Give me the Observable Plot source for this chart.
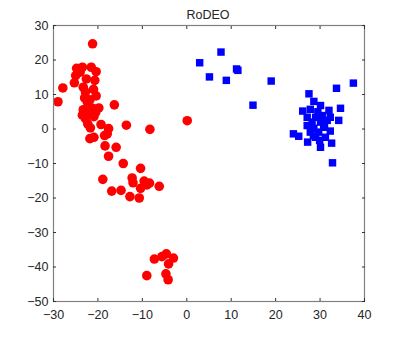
<!DOCTYPE html>
<html>
<head>
<meta charset="utf-8">
<script src="https://cdn.jsdelivr.net/npm/d3@7"></script>
<script src="https://cdn.jsdelivr.net/npm/@observablehq/plot@0.6"></script>
<style>
  body { margin: 0; background: #fff; font-family: "Liberation Sans", Arial, sans-serif; }
  #title { height: 20px; line-height: 30px; overflow: visible; text-align: center; padding-left: 14px; font-size: 12.5px; color: #262626; }
</style>
</head>
<body>
<div id="title">RoDEO</div>
<div id="chart"></div>
<script>
const titleText = "RoDEO";
const xTicks = [-30, -20, -10, 0, 10, 20, 30, 40];
const yTicks = [-50, -40, -30, -20, -10, 0, 10, 20, 30];

const redX = [-21.2, -24.8, -23.5, -21.5, -20.4, -25.0, -25.3, -27.9, -29.0, -22.6, -20.7, -23.3, -22.8, -20.4, -16.3, -22.4, -23.3, -21.3, -19.8, -22.8, -20.9, -21.7, -19.3, -17.6, -13.6, -8.3, 0.1, -17.9, -21.8, -20.9, -18.5, -18.4, -15.9, -17.6, -14.3, -10.4, -23.0, -21.8, -21.0, -22.0, -23.5, -22.3, -20.5, -24.0,
  -18.9, -12.3, -12.1, -9.6, -8.4, -10.4, -6.2, -16.9, -14.8, -12.8, -10.7, -9.0,
  -7.3, -5.6, -4.6, -3.0, -4.1, -9.0, -4.7, -4.2];
const redY = [24.7, 17.6, 17.9, 17.9, 16.6, 15.5, 13.4, 11.9, 7.9, 14.5, 14.1, 12.1, 10.7, 9.6, 7.0, 7.8, 5.6, 6.1, 6.1, 3.0, 3.6, 0.3, 1.3, 0.1, 1.1, -0.1, 2.4, -1.4, -2.8, -2.4, -1.9, -4.9, -5.3, -7.9, -10.0, -11.4, 9.0, 8.5, 11.5, 5.0, 4.0, 1.5, 4.8, 16.5,
  -14.6, -14.2, -15.6, -15.1, -15.7, -17.2, -16.6, -18.0, -17.8, -19.6, -20.0, -16.2,
  -37.7, -37.0, -36.2, -37.4, -39.1, -42.5, -42.0, -43.7];

const blueX = [7.7, 2.9, 5.1, 8.9, 11.2, 11.5, 19.0, 14.9, 37.5, 33.7,
  27.5, 28.6, 30.1, 26.1, 34.6, 27.8, 32.0, 27.1, 29.0, 30.5, 32.3, 34.2, 28.2, 30.1, 31.6, 27.1, 28.6, 30.8, 27.8, 29.7, 32.3, 24.0, 25.2, 29.0, 31.2, 27.2, 29.9, 32.6, 30.1, 32.8, 29.5, 31.0, 28.5];
const blueY = [22.3, 19.2, 15.1, 14.1, 17.4, 17.0, 13.9, 6.9, 13.3, 11.8,
  10.2, 8.0, 6.8, 5.2, 6.0, 5.7, 5.4, 3.4, 3.4, 3.9, 3.4, 2.5, 2.0, 2.0, 2.5, 1.0, 0.2, 0.5, -0.9, -0.9, -0.6, -1.4, -2.1, -2.4, -2.4, -3.8, -3.3, -4.1, -5.3, -9.8, 5.0, 1.0, -2.0];

const red = redX.map((x, i) => ({x, y: redY[i]}));
const blue = blueX.map((x, i) => ({x, y: blueY[i]}));

document.getElementById("title").textContent = titleText;

const axisColor = "#808080";
const textColor = "#262626";
const blank = () => "";

const chart = Plot.plot({
  width: 402,
  height: 319,
  marginTop: 5,
  marginBottom: 38,
  marginLeft: 53,
  marginRight: 38,
  style: {fontFamily: "'Liberation Sans', Arial, sans-serif", fontSize: "12.5px", color: textColor, background: "#fff"},
  x: {domain: [-30, 40], ticks: xTicks},
  y: {domain: [-50, 30], ticks: yTicks},
  marks: [
    Plot.dot(red, {x: "x", y: "y", r: 4.8, fill: "#ff0000", stroke: "none"}),
    Plot.dot(blue, {x: "x", y: "y", r: 4.2, symbol: "square", fill: "#0000ff", stroke: "none"}),
    Plot.frame({stroke: axisColor, strokeWidth: 1.2}),
    Plot.axisX(xTicks, {anchor: "bottom", tickSize: -3, tickPadding: 12, stroke: "#333", fill: textColor, label: null, fontSize: 12.5}),
    Plot.axisX(xTicks, {anchor: "top", tickSize: -3, tickFormat: blank, stroke: "#333", label: null}),
    Plot.axisY(yTicks, {anchor: "left", tickSize: -3, tickPadding: 8, stroke: "#333", fill: textColor, label: null, fontSize: 12.5}),
    Plot.axisY(yTicks, {anchor: "right", tickSize: -3, tickFormat: blank, stroke: "#333", label: null})
  ]
});
document.getElementById("chart").appendChild(chart);
</script>
</body>
</html>
